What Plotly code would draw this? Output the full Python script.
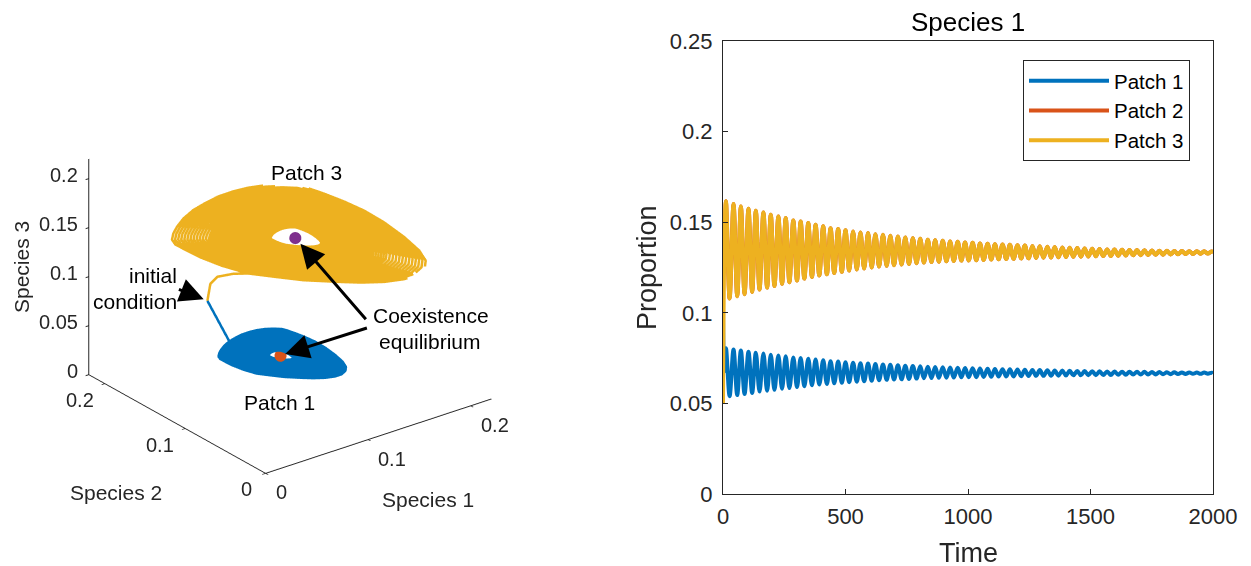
import plotly.graph_objects as go

BLUE, RED, YEL, PUR = "#0072BD", "#D95319", "#EDB120", "#7E2F8E"
INK = "#262626"
FONT = "Liberation Sans"

# ---- time series, read as successive crests and troughs ----
t_peak = [12,43,73,104,134,165,195,226,256,287,317,348,378,409,439,470,500,531,561,592,622,653,683,714,744,775,805,836,866,897,927,958,988,1019,1049,1080,1110,1141,1171,1202,1232,1263,1293,1324,1354,1385,1415,1446,1476,1507,1537,1568,1598,1629,1659,1690,1720,1751,1781,1812,1842,1873,1903,1934,1964,1995]
t_trough = [27,58,88,119,149,180,210,241,271,302,332,363,393,424,454,485,515,546,576,607,637,668,698,729,759,790,820,851,881,912,942,973,1003,1034,1064,1095,1125,1156,1186,1217,1247,1278,1308,1339,1369,1400,1430,1461,1491,1522,1552,1583,1613,1644,1674,1705,1735,1766,1796,1827,1857,1888,1918,1949,1979,2000]
p3_peak = [.1615,.1600,.1587,.1574,.1563,.1554,.1541,.1532,.1523,.1510,.1504,.1495,.1486,.1477,.1467,.1462,.1455,.1449,.1443,.1440,.1434,.1431,.1425,.1421,.1416,.1412,.1409,.1403,.1401,.1398,.1394,.1392,.1388,.1386,.1383,.1381,.1379,.1377,.1375,.1373,.1371,.1369,.1367,.1365,.1363,.1361,.1359,.1357,.1355,.1353,.1352,.1350,.1349,.1348,.1347,.1346,.1345,.1344,.1343,.1342,.1341,.1341,.1340,.1340,.1339,.1338]
p3_trough = [.1079,.1091,.1103,.1115,.1128,.1139,.1148,.1160,.1169,.1178,.1189,.1198,.1206,.1213,.1220,.1226,.1233,.1239,.1244,.1250,.1255,.1259,.1263,.1266,.1270,.1274,.1277,.1280,.1282,.1284,.1286,.1288,.1289,.1290,.1292,.1294,.1295,.1297,.1298,.1300,.1301,.1303,.1304,.1305,.1306,.1308,.1309,.1310,.1311,.1312,.1313,.1314,.1315,.1316,.1317,.1318,.1319,.1320,.1321,.1322,.1323,.1324,.1325,.1326,.1327,.1328]
p1_peak = [.0805,.0798,.0792,.0785,.0780,.0775,.0769,.0765,.0760,.0754,.0751,.0747,.0742,.0738,.0733,.0731,.0727,.0724,.0721,.0720,.0717,.0715,.0713,.0711,.0708,.0706,.0705,.0702,.0701,.0700,.0698,.0697,.0695,.0694,.0692,.0691,.0690,.0689,.0688,.0687,.0686,.0685,.0684,.0683,.0682,.0681,.0680,.0679,.0679,.0678,.0677,.0676,.0676,.0675,.0675,.0674,.0674,.0673,.0673,.0672,.0672,.0671,.0671,.0670,.0670,.0669]
p1_trough = [.0540,.0546,.0552,.0558,.0565,.0570,.0575,.0581,.0585,.0590,.0595,.0600,.0604,.0607,.0611,.0614,.0617,.0620,.0622,.0625,.0628,.0630,.0632,.0633,.0635,.0637,.0639,.0640,.0641,.0642,.0643,.0644,.0645,.0645,.0646,.0647,.0648,.0649,.0649,.0650,.0651,.0652,.0652,.0653,.0653,.0654,.0655,.0655,.0656,.0656,.0657,.0657,.0658,.0658,.0659,.0659,.0660,.0660,.0661,.0661,.0662,.0662,.0663,.0663,.0664,.0664]
t_start = [0, 5]
p1_start = [.10, .0675]
p2_start = [.15, .125]
p3_start = [.05, .13]

def weave(start_t, start_v, peak, trough):
    t, v = list(start_t), list(start_v)
    for a, b, c, d in zip(t_peak, peak, t_trough, trough):
        t += [a, c]
        v += [b, d]
    return t, v

# ---- phase portrait: outer orbit as offsets from the equilibrium ----
orbit_dx = [-.0603,-.0642,-.0675,-.0706,-.0720,-.0713,-.0698,-.0662,-.0615,-.0550,-.0472,-.0384,-.0314,-.0187,-.0028,.0140,.0329,.0539,.0716,.0826,.0877,.0892,.0859,.0780,.0669,.0547,.0360,.0194,.0035,-.0156,-.0328,-.0460,-.0550]
orbit_dy = [.0763,.0697,.0610,.0488,.0347,.0211,.0067,-.0073,-.0199,-.0322,-.0429,-.0523,-.0557,-.0602,-.0647,-.0680,-.0687,-.0667,-.0628,-.0570,-.0493,-.0383,-.0261,-.0114,.0033,.0167,.0361,.0499,.0628,.0713,.0762,.0780,.0789]
orbit_dz = [-.0160,-.0055,.0065,.0218,.0373,.0502,.0631,.0735,.0814,.0872,.0901,.0907,.0871,.0789,.0675,.0540,.0358,.0128,-.0088,-.0256,-.0384,-.0509,-.0598,-.0666,-.0702,-.0714,-.0721,-.0693,-.0663,-.0557,-.0434,-.0320,-.0239]
coil_scale = [1,.975,.95,.925,.9,.875,.85,.825,.8,.775,.75,.725,.7,.68,.66,.64,.62,.6,.585,.57,.555,.54,.525,.51,.495,.48,.465,.45,.435,.42,.405,.39,.375,.36,.345,.33,.315,.3,.285,.27,.255,.24,.225,.21,.2]
eq_patch3 = [.1333, .1333, .1333]
eq_patch1 = [.0667, .0667, .0667]
size_patch3 = 1.0
size_patch1 = .5
init_point = [.10, .20, .05]
lead3_x = [.10, .1029, .1097, .1252, .1368]
lead3_y = [.20, .20, .20, .20, .1961]
lead3_z = [.05, .0664, .0712, .0689, .0670]
lead1_x = [.10, .0307]
lead1_y = [.20, .0841]
lead1_z = [.05, .0853]

x_ticks = [0, .1, .2]
x_tick_text = ["0", "0.1", "0.2"]
y_ticks = [0, .1, .2]
y_tick_text = ["0", "0.1", "0.2"]
z_ticks = [0, .05, .1, .15, .2]
z_tick_text = ["0", "0.05", "0.1", "0.15", "0.2"]

def spiral(eq, size, first):
    xs, ys, zs = [], [], []
    n = len(orbit_dx)
    for s in coil_scale:
        for j in range(n + 1):
            k = (first + j) % n
            xs.append(eq[0] + size * s * orbit_dx[k])
            ys.append(eq[1] + size * s * orbit_dy[k])
            zs.append(eq[2] + size * s * orbit_dz[k])
    return xs, ys, zs

fig = go.Figure()

for eq, size, first, lead, col, w in [
    (eq_patch1, size_patch1, 4, (lead1_x, lead1_y, lead1_z), BLUE, 6),
    (eq_patch3, size_patch3, 28, (lead3_x, lead3_y, lead3_z), YEL, 5),
]:
    x, y, z = spiral(eq, size, first)
    fig.add_trace(go.Scatter3d(x=x, y=y, z=z, mode="lines", line=dict(color=col, width=w), showlegend=False, hoverinfo="skip"))
    fig.add_trace(go.Scatter3d(x=lead[0], y=lead[1], z=lead[2], mode="lines", line=dict(color=col, width=5), showlegend=False, hoverinfo="skip"))
for eq, col, ms in [(eq_patch1, RED, 7), (eq_patch3, PUR, 7)]:
    fig.add_trace(go.Scatter3d(x=[eq[0]], y=[eq[1]], z=[eq[2]], mode="markers", marker=dict(color=col, size=ms), showlegend=False, hoverinfo="skip"))

for name, col, st, pk, tr in [
    ("Patch 1", BLUE, p1_start, p1_peak, p1_trough),
    ("Patch 2", RED, p2_start, p3_peak, p3_trough),
    ("Patch 3", YEL, p3_start, p3_peak, p3_trough),
]:
    t, v = weave(t_start, st, pk, tr)
    fig.add_trace(go.Scatter(x=t, y=v, mode="lines", name=name, line=dict(color=col, width=4, shape="spline", smoothing=1), xaxis="x", yaxis="y"))

# the page body keeps its 8 px margin, so the figure starts at (8, 8) and ends at the window's edge
W, H = 1243, 558
def px(x): return (x - 8) / W
def py(y): return 1 - (y - 8) / H

sc_axis = dict(range=[0, .22], showbackground=False, showgrid=False, zeroline=False, showspikes=False,
               showline=True, linecolor=INK, linewidth=2, ticks="outside", ticklen=4, tickcolor=INK, tickwidth=2,
               title=dict(text=""), showticklabels=False)

def arrow(p, ax, ay, standoff):
    return dict(x=p[0], y=p[1], z=p[2], text="", showarrow=True, ax=ax, ay=ay, arrowhead=2, arrowsize=1.6,
                arrowwidth=3, arrowcolor="black", standoff=standoff)

def tick_label(x, y, z, text, dx, dy, anchor="center"):
    return dict(x=x, y=y, z=z, text=text, showarrow=False, xshift=dx, yshift=-dy, xanchor=anchor, yanchor="middle",
                font=dict(family=FONT, size=20, color=INK))

scene_notes = [arrow(eq_patch3, 72, 83, 8), arrow(eq_patch1, 88, -28, 5), arrow(init_point, -30, -12, 4)]
for v, s in zip(x_ticks, x_tick_text):
    scene_notes.append(tick_label(v, 0, 0, s, 24 if v else 16, 19))
for v, s in zip(y_ticks, y_tick_text):
    scene_notes.append(tick_label(0, v, 0, s, -25 if v else -19, 16))
for v, s in zip(z_ticks, z_tick_text):
    scene_notes.append(tick_label(0, .2195, v, s, -9, -4, "right"))

fig.update_layout(
    width=W, height=H, margin=dict(l=0, r=0, t=0, b=0), paper_bgcolor="white", plot_bgcolor="white",
    font=dict(family=FONT, color="black"),
    scene=dict(
        domain=dict(x=[0, 564 / W], y=[(H - 542) / H, 1]),
        aspectmode="manual", aspectratio=dict(x=1.05, y=1.071, z=.881),
        camera=dict(projection=dict(type="orthographic"), eye=dict(x=-.471, y=-.613, z=.367),
                    up=dict(x=0, y=0, z=1), center=dict(x=0, y=0, z=0)),
        xaxis=dict(sc_axis, tickvals=x_ticks),
        yaxis=dict(sc_axis, tickvals=y_ticks),
        zaxis=dict(sc_axis, tickvals=z_ticks),
        annotations=scene_notes,
    ),
    xaxis=dict(domain=[px(723), px(1213)], range=[0, 2000], tickvals=[0, 500, 1000, 1500, 2000], ticks="inside", ticklen=5,
               showline=True, mirror=True, linecolor=INK, linewidth=1, tickcolor=INK, showgrid=False, zeroline=False,
               tickfont=dict(family=FONT, size=22, color=INK), anchor="y", automargin=False, ticklabelstandoff=3),
    yaxis=dict(domain=[py(494), py(41)], range=[0, .25], tickvals=[0, .05, .1, .15, .2, .25],
               ticktext=["0", "0.05", "0.1", "0.15", "0.2", "0.25"], ticks="inside", ticklen=5,
               showline=True, mirror=True, linecolor=INK, linewidth=1, tickcolor=INK, showgrid=False, zeroline=False,
               tickfont=dict(family=FONT, size=22, color=INK), anchor="x", automargin=False, ticklabelstandoff=5),
    legend=dict(x=px(1023), y=py(60), xanchor="left", yanchor="top", bordercolor=INK, borderwidth=1, bgcolor="white",
                font=dict(family=FONT, size=20.5, color="black"), itemwidth=80, tracegroupgap=0),
)

def label(text, x, y, size=21, color="black", angle=0):
    fig.add_annotation(text=text, x=px(x), y=py(y), xref="paper", yref="paper", showarrow=False,
                       font=dict(family=FONT, size=size, color=color), textangle=angle, xanchor="center", yanchor="middle")

label("Species 1", 968, 22, size=26)
label("Time", 968, 553, size=27, color=INK)
label("Proportion", 647, 268, size=27, color=INK, angle=-90)
label("Patch 3", 306, 173)
label("Patch 1", 279.5, 402)
label("initial", 152.5, 275)
label("condition", 134.7, 301.7)
label("Coexistence", 431, 315.7)
label("equilibrium", 430, 341.7)
label("Species 3", 21, 267, color=INK, angle=-90)
label("Species 2", 116, 492, color=INK)
label("Species 1", 427.5, 499, color=INK)

fig.write_html("out.html")
